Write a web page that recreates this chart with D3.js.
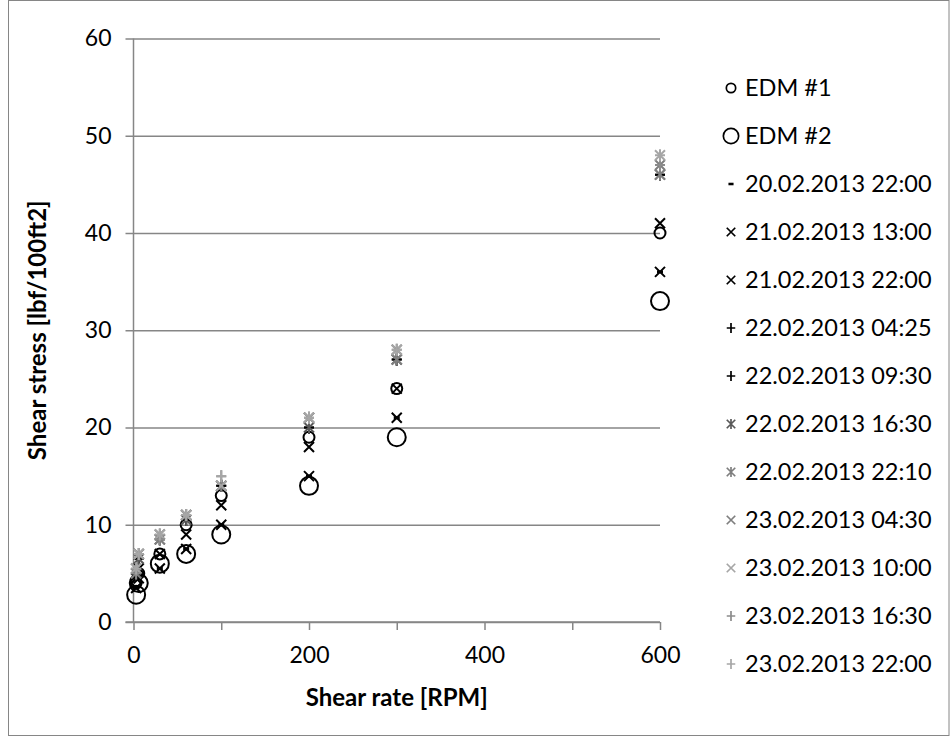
<!DOCTYPE html>
<html>
<head>
<meta charset="utf-8">
<script src="https://cdn.jsdelivr.net/npm/d3@7"></script>
<style>
  html, body { margin: 0; padding: 0; background: #fff; }
  svg { display: block; }
  text { font-family: Lato, "Open Sans", "Liberation Sans", sans-serif; fill: #000; }
</style>
</head>
<body>
<svg id="chart" width="950" height="743"></svg>
<script>
// Shear rates of the viscometer readings (RPM)
const shearRates = [3, 6, 30, 60, 100, 200, 300, 600];

// Series names, shown in the legend
const seriesNames = [
  "EDM #1", "EDM #2",
  "20.02.2013 22:00", "21.02.2013 13:00", "21.02.2013 22:00",
  "22.02.2013 04:25", "22.02.2013 09:30", "22.02.2013 16:30", "22.02.2013 22:10",
  "23.02.2013 04:30", "23.02.2013 10:00", "23.02.2013 16:30", "23.02.2013 22:00"
];

// Shear stress readings [lbf/100ft2], one array per series, in shearRates order
const edm1      = [4,   5,   7,   10,   13, 19, 24, 40];
const edm2      = [2.8, 4,   6,   7,    9,  14, 19, 33];
const s20_2200  = [3.5, 4.5, 5.5, 7.5,  10, 15, 21, 36];
const s21_1300  = [4.5, 5.5, 7,   9,    12, 18, 24, 41];
const s21_2200  = [3.5, 4.5, 5.5, 7.5,  10, 15, 21, 36];
const s22_0425  = [5,   6.5, 8.5, 10.5, 14, 20, 27, 46];
const s22_0930  = [5,   6.5, 8.5, 10.5, 14, 20, 27, 46];
const s22_1630  = [5,   6.5, 8.5, 10.5, 14, 20, 27, 46];
const s22_2210  = [5.5, 7,   9,   11,   14, 21, 27, 46];
const s23_0430  = [5,   7,   8.5, 11,   14, 21, 28, 47];
const s23_1000  = [5.5, 7,   9,   11,   14, 21, 28, 48];
const s23_1630  = [5,   7,   8.5, 11,   15, 21, 28, 47];
const s23_2200  = [5.5, 7,   9,   11,   15, 21, 28, 48];

const seriesValues = [edm1, edm2, s20_2200, s21_1300, s21_2200, s22_0425, s22_0930,
                      s22_1630, s22_2210, s23_0430, s23_1000, s23_1630, s23_2200];

// Marker shape and colour per series
const markerShapes = ["circleSmall", "circleLarge", "dash", "x", "x", "plus", "plus",
                      "star", "star", "x", "x", "plus", "plus"];
const markerColors = ["#000", "#000", "#000", "#000", "#000", "#000", "#000",
                      "#595959", "#7f7f7f", "#7f7f7f", "#a6a6a6", "#8c8c8c", "#a6a6a6"];

// Axis tick values
const xTicks = [0, 100, 200, 300, 400, 500, 600];
const xTickLabels = [0, 200, 400, 600];
const yTicks = [0, 10, 20, 30, 40, 50, 60];

const xTitle = "Shear rate [RPM]";
const yTitle = "Shear stress [lbf/100ft2]";

const svg = d3.select("#chart");
const W = 950, H = 743;
const plot = { left: 133.5, right: 660, top: 38.5, bottom: 622 };
const gridColor = "#868686";
const tickFont = 23;
const legendFont = 23.5;
const titleFont = 24;

// Chart-area frame
svg.append("rect")
  .attr("x", 8.5).attr("y", 0.5).attr("width", W - 9.5).attr("height", 735)
  .attr("fill", "#fff").attr("stroke", gridColor).attr("stroke-width", 1);

const x = d3.scaleLinear().domain([0, 600]).range([plot.left, plot.right]);
const y = d3.scaleLinear().domain([0, 60]).range([plot.bottom, plot.top]);

// Horizontal gridlines with outward ticks on the y axis
const yAxis = d3.axisLeft(y).tickValues(yTicks).tickSize(-(plot.right - plot.left)).tickSizeOuter(0).tickPadding(22)
  .tickFormat(d3.format("d"));
const gy = svg.append("g").attr("transform", `translate(${plot.left},0)`).call(yAxis);
gy.select(".domain").remove();
gy.selectAll(".tick line").attr("stroke", gridColor).attr("stroke-width", 1.5)
  .attr("x1", -8);
gy.selectAll(".tick text").attr("font-size", tickFont).style("font-family", "Lato, 'Open Sans', sans-serif");

// Y axis line
svg.append("line").attr("x1", plot.left).attr("x2", plot.left)
  .attr("y1", plot.top).attr("y2", plot.bottom)
  .attr("stroke", gridColor).attr("stroke-width", 1.5);

// X axis with ticks every 100, labels every 200
const xAxis = d3.axisBottom(x).tickValues(xTicks).tickSize(8).tickSizeOuter(0).tickPadding(17)
  .tickFormat(d => xTickLabels.includes(d) ? d : "");
const gx = svg.append("g").attr("transform", `translate(0,${plot.bottom})`).call(xAxis);
gx.select(".domain").attr("stroke", gridColor).attr("stroke-width", 1.5)
  .attr("d", `M${plot.left - 8},0H${plot.right}`);
gx.selectAll(".tick line").attr("stroke", gridColor).attr("stroke-width", 1.5);
gx.selectAll(".tick text").attr("font-size", tickFont).style("font-family", "Lato, 'Open Sans', sans-serif");

// Axis titles
svg.append("text")
  .attr("x", (plot.left + plot.right) / 2).attr("y", 706)
  .attr("text-anchor", "middle").attr("font-size", titleFont).attr("font-weight", "bold")
  .text(xTitle);
svg.append("text")
  .attr("transform", `translate(46,${(plot.top + plot.bottom) / 2}) rotate(-90)`)
  .attr("text-anchor", "middle").attr("font-size", titleFont).attr("font-weight", "bold")
  .text(yTitle);

// Marker drawing
function drawMarker(g, shape, color) {
  const s = 5;
  if (shape === "circleSmall") {
    g.append("circle").attr("r", 5.5).attr("fill", "none").attr("stroke", color).attr("stroke-width", 2);
  } else if (shape === "circleLarge") {
    g.append("circle").attr("r", 9).attr("fill", "none").attr("stroke", color).attr("stroke-width", 2);
  } else if (shape === "dash") {
    g.append("rect").attr("x", -3).attr("y", -1.5).attr("width", 6).attr("height", 3).attr("fill", color);
  } else if (shape === "x") {
    g.append("path").attr("d", `M${-s},${-s}L${s},${s}M${-s},${s}L${s},${-s}`)
      .attr("stroke", color).attr("stroke-width", 2).attr("fill", "none");
  } else if (shape === "plus") {
    g.append("path").attr("d", `M${-s},0L${s},0M0,${-s - 1}L0,${s + 1}`)
      .attr("stroke", color).attr("stroke-width", 2).attr("fill", "none");
  } else if (shape === "star") {
    g.append("path").attr("d", `M${-s},${-s}L${s},${s}M${-s},${s}L${s},${-s}M0,${-s - 1}L0,${s + 1}`)
      .attr("stroke", color).attr("stroke-width", 2).attr("fill", "none");
  }
}

// Data points, drawn in series order so later series sit on top
const pts = svg.append("g");
seriesValues.forEach((vals, i) => {
  vals.forEach((v, j) => {
    const g = pts.append("g").attr("transform", `translate(${x(shearRates[j])},${y(v)})`);
    drawMarker(g, markerShapes[i], markerColors[i]);
  });
});

// Legend
const legend = svg.append("g");
const legendTop = 88, legendStep = 48;
seriesNames.forEach((name, i) => {
  const row = legend.append("g").attr("transform", `translate(731,${legendTop + i * legendStep})`);
  const m = row.append("g").attr("transform", "scale(0.85)");
  drawMarker(m, markerShapes[i], markerColors[i]);
  row.append("text").attr("x", 14).attr("dy", "0.35em")
    .attr("font-size", legendFont).text(name);
});
</script>
</body>
</html>
